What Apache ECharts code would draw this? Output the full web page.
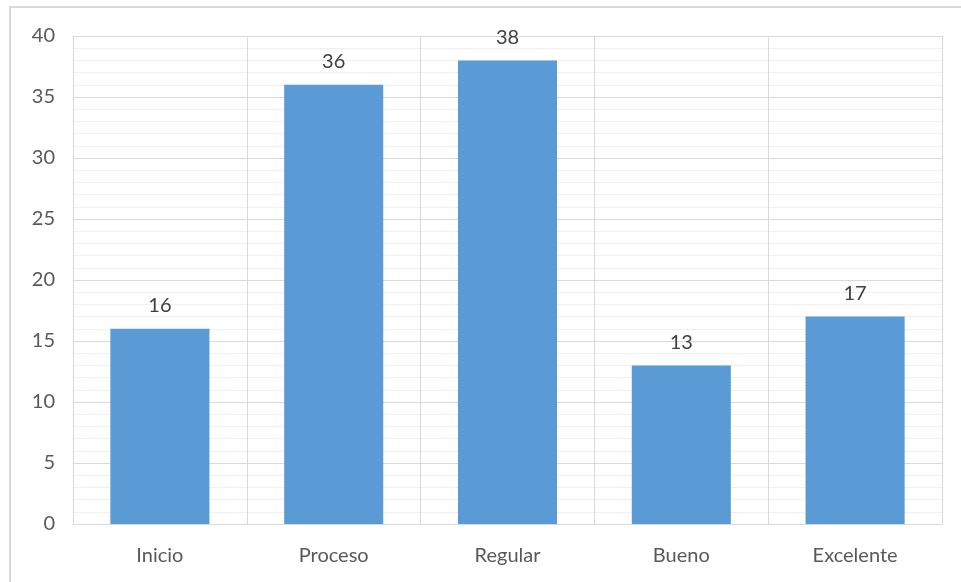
<!DOCTYPE html>
<html>
<head>
<meta charset="utf-8">
<script src="https://cdn.jsdelivr.net/npm/echarts@6/dist/echarts.min.js"></script>
<style>
  html, body { margin: 0; padding: 0; background: #fff; }
  #chart { width: 961px; height: 582px; }
</style>
</head>
<body>
<div id="chart"></div>
<script>
var categories = ['Inicio', 'Proceso', 'Regular', 'Bueno', 'Excelente'];
var values = [16, 36, 38, 13, 17];
var yTicks = [0, 5, 10, 15, 20, 25, 30, 35, 40];

var chart = echarts.init(document.getElementById('chart'));
chart.setOption({
  animation: false,
  textStyle: { fontFamily: 'Lato' },
  graphic: [{
    type: 'rect',
    shape: { x: 10, y: 7, width: 1000, height: 700 },
    style: { fill: 'none', stroke: '#d9d9d9', lineWidth: 2 },
    silent: true
  }],
  grid: { left: 73, right: 19, top: 36, bottom: 58 },
  xAxis: {
    type: 'category',
    data: categories,
    axisTick: { show: false },
    axisLine: { lineStyle: { color: '#d9d9d9' } },
    axisLabel: { color: '#595959', fontSize: 20, margin: 22 },
    splitLine: { show: true, lineStyle: { color: '#d9d9d9' } }
  },
  yAxis: {
    type: 'value',
    min: yTicks[0],
    max: yTicks[yTicks.length - 1],
    interval: 5,
    axisLine: { show: false },
    axisTick: { show: false },
    axisLabel: { color: '#595959', fontSize: 20, margin: 18 },
    splitLine: { lineStyle: { color: '#d9d9d9' } },
    minorTick: { show: false, splitNumber: 5 },
    minorSplitLine: { show: true, lineStyle: { color: '#f0f0f0' } }
  },
  series: [{
    type: 'bar',
    data: values,
    barCategoryGap: '43%',
    itemStyle: { color: '#5b9bd5' },
    label: {
      show: true,
      position: 'top',
      distance: 13,
      color: '#404040',
      fontSize: 20
    }
  }]
});
</script>
</body>
</html>
